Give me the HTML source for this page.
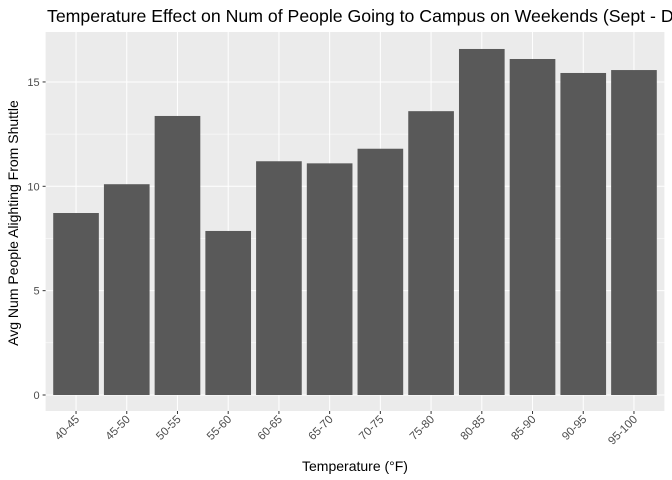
<!DOCTYPE html>
<html><head><meta charset="utf-8"><style>
body{margin:0;background:#fff;overflow:hidden;}
svg{display:block;font-family:"Liberation Sans",sans-serif;}
</style></head><body>
<svg id="chart" width="672" height="480">
<text x="47" y="22" font-size="17.7" fill="#000">Temperature Effect on Num of People Going to Campus on Weekends (Sept - Dec)</text>
<text transform="translate(18,223) rotate(-90)" text-anchor="middle" font-size="14" fill="#000">Avg Num People Alighting From Shuttle</text>
<text x="355" y="471" text-anchor="middle" font-size="14" fill="#000">Temperature (°F)</text>
</svg>
<script>
const categories=["40-45","45-50","50-55","55-60","60-65","65-70","70-75","75-80","80-85","85-90","90-95","95-100"];
const values=[8.72,10.1,13.37,7.86,11.2,11.1,11.8,13.6,16.58,16.1,15.43,15.57];
const yTicks=[0,5,10,15];
const NS="http://www.w3.org/2000/svg";
const svg=document.getElementById('chart');
const L=45.6,R=664.4,T=32,B=411,y0=395,unit=20.87;
const step=(R-L)/(categories.length+0.2);
const xc=i=>L+step*(0.6+i);
const ys=v=>y0-v*unit;
function mk(t,a,p){const e=document.createElementNS(NS,t);for(const k in a)e.setAttribute(k,a[k]);(p||svg).appendChild(e);return e;}
const panel=mk('rect',{x:L,y:T,width:R-L,height:B-T,fill:'#ebebeb'});


for(let i=0;i<yTicks.length;i++){
  const v=yTicks[i];
  if(i<yTicks.length-1){const m=(v+yTicks[i+1])/2;mk('line',{x1:L,x2:R,y1:ys(m),y2:ys(m),stroke:'#fff','stroke-width':0.5});}
  const g=mk('line',{x1:L,x2:R,y1:ys(v),y2:ys(v),stroke:'#fff','stroke-width':1});
  
  
  mk('line',{x1:L-3,x2:L,y1:ys(v),y2:ys(v),stroke:'#333','stroke-width':1});
  const t=mk('text',{x:L-6,y:ys(v)+4,'text-anchor':'end','font-size':11,fill:'#4d4d4d'});
  t.textContent=v;
  
  
}
{const m=(yTicks[yTicks.length-1]+yTicks[yTicks.length-1]+5)/2;if(ys(m)>T)mk('line',{x1:L,x2:R,y1:ys(m),y2:ys(m),stroke:'#fff','stroke-width':0.5});}
categories.forEach((c,i)=>{
  const x=xc(i);
  mk('line',{x1:x,x2:x,y1:T,y2:B,stroke:'#fff','stroke-width':1});
});
categories.forEach((c,i)=>{
  const x=xc(i),w=step*0.9;
  const b=mk('rect',{x:x-w/2,y:ys(values[i]),width:w,height:ys(0)-ys(values[i]),fill:'#595959'});
  
  
  mk('line',{x1:x,x2:x,y1:B,y2:B+3,stroke:'#333','stroke-width':1});
  const t=mk('text',{transform:`translate(${x+4},${B+9}) rotate(-45)`,'text-anchor':'end','font-size':11.5,fill:'#4d4d4d'});
  t.textContent=c;
  
  
});
</script>
</body></html>
